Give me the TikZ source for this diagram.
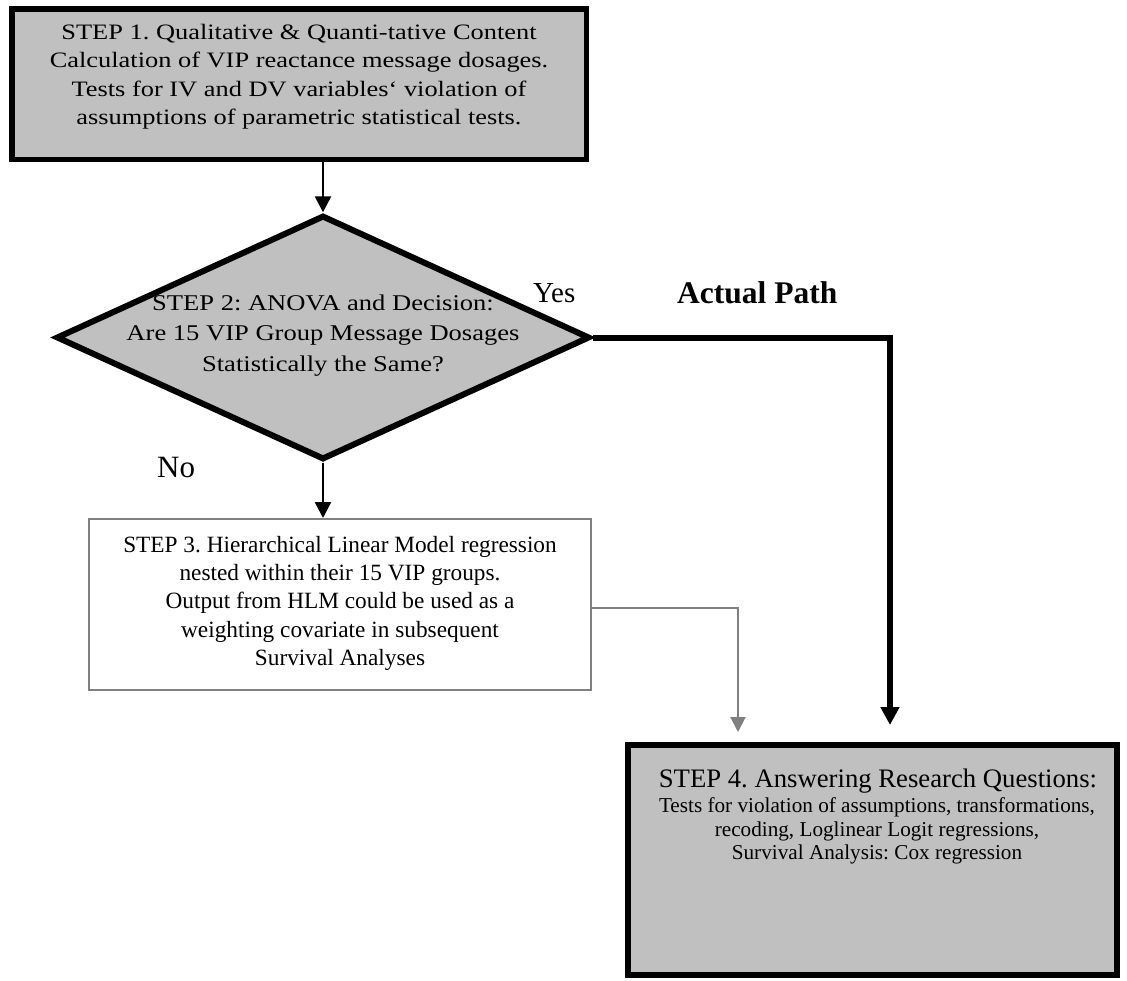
\documentclass[tikz,border=0pt]{standalone}
\usepackage{fontspec}
\setmainfont{Liberation Serif}
\newfontfamily\wideA[FakeStretch=1.2]{Liberation Serif}
\newfontfamily\wideB[FakeStretch=1.18]{Liberation Serif}
\usetikzlibrary{shapes.geometric,arrows.meta}
\definecolor{boxgray}{HTML}{C0C0C0}
\definecolor{linegray}{HTML}{808080}
\tikzset{
  thickbox/.style={draw=black, line width=#1, fill=boxgray, rectangle, inner sep=0pt},
  thinbox/.style={draw=linegray, line width=2pt, fill=white, rectangle, inner sep=0pt},
  decision/.style={draw=black, line width=6pt, fill=boxgray, diamond, inner sep=0pt},
  lbl/.style={inner sep=0pt, align=center},
  thinarrow/.style={draw=black, line width=2.5pt, -{Triangle[width=16pt,length=16pt]}},
  thickarrow/.style={draw=black, line width=6pt, -{Triangle[width=18pt,length=18pt]}},
  grayarrow/.style={draw=linegray, line width=2pt, -{Triangle[width=15pt,length=15pt]}}
}
\begin{document}
\frenchspacing
\begin{tikzpicture}[x=1pt,y=-1pt]
\useasboundingbox (0,0) rectangle (1127,980);
% STEP 1
\node[thickbox=5.5pt, minimum width=574.5pt, minimum height=150.5pt] (s1) at (299,84) {};
\node[lbl, anchor=north, font=\wideA\fontsize{22}{28.3}\selectfont] (t1) at (299,24)
  {STEP 1. Qualitative \& Quanti-tative Content\\
   Calculation of VIP reactance message dosages.\\
   Tests for IV and DV variables‘ violation of\\
   assumptions of parametric statistical tests.};
% STEP 2 diamond
\node[decision, minimum width=533.6pt, minimum height=244.4pt] (s2) at (323,337.5) {};
\node[lbl, anchor=north, font=\wideB\fontsize{22.5}{30.5}\selectfont] (t2) at (323,294.5)
  {STEP 2: ANOVA and Decision:\\
   Are 15 VIP Group Message Dosages\\
   Statistically the Same?};
% STEP 3
\node[thinbox, minimum width=502pt, minimum height=171pt] (s3) at (340,604.5) {};
\node[lbl, anchor=north, font=\fontsize{23.3}{28.3}\selectfont] (t3) at (340,536)
  {STEP 3. Hierarchical Linear Model regression\\
   nested within their 15 VIP groups.\\
   Output from HLM could be used as a\\
   weighting covariate in subsequent\\
   Survival Analyses};
% STEP 4
\node[thickbox=6pt, minimum width=489pt, minimum height=230pt] (s4) at (872.5,860) {};
\node[lbl, anchor=base, font=\fontsize{26.7}{30}\selectfont] (t4a) at (878,787.5)
  {STEP 4. Answering Research Questions:};
\node[lbl, anchor=north, font=\fontsize{21.2}{23.5}\selectfont] (t4b) at (877,797.5)
  {Tests for violation of assumptions, transformations,\\
   recoding, Loglinear Logit regressions,\\
   Survival Analysis: Cox regression};
% labels
\node[lbl, anchor=base west, font=\fontsize{29}{32}\selectfont] (yes) at (533,302) {Yes};
\node[lbl, anchor=base west, font=\fontsize{31.5}{34}\selectfont\bfseries] (ap) at (677,303) {Actual Path};
\node[lbl, anchor=base west, font=\fontsize{31}{34}\selectfont] (no) at (157,477) {No};
% connectors
\coordinate (yesend) at (890,725);
\coordinate (grayend) at (738,732);
\draw[thinarrow] (s1.south -| s2.north) -- (s2.north);
\draw[thinarrow] (s2.south) -- (s2.south |- s3.north);
\draw[thickarrow] (s2.east) -| (yesend);
\draw[grayarrow] ([yshift=-3pt]s3.east) -| (grayend);
\end{tikzpicture}
\end{document}
